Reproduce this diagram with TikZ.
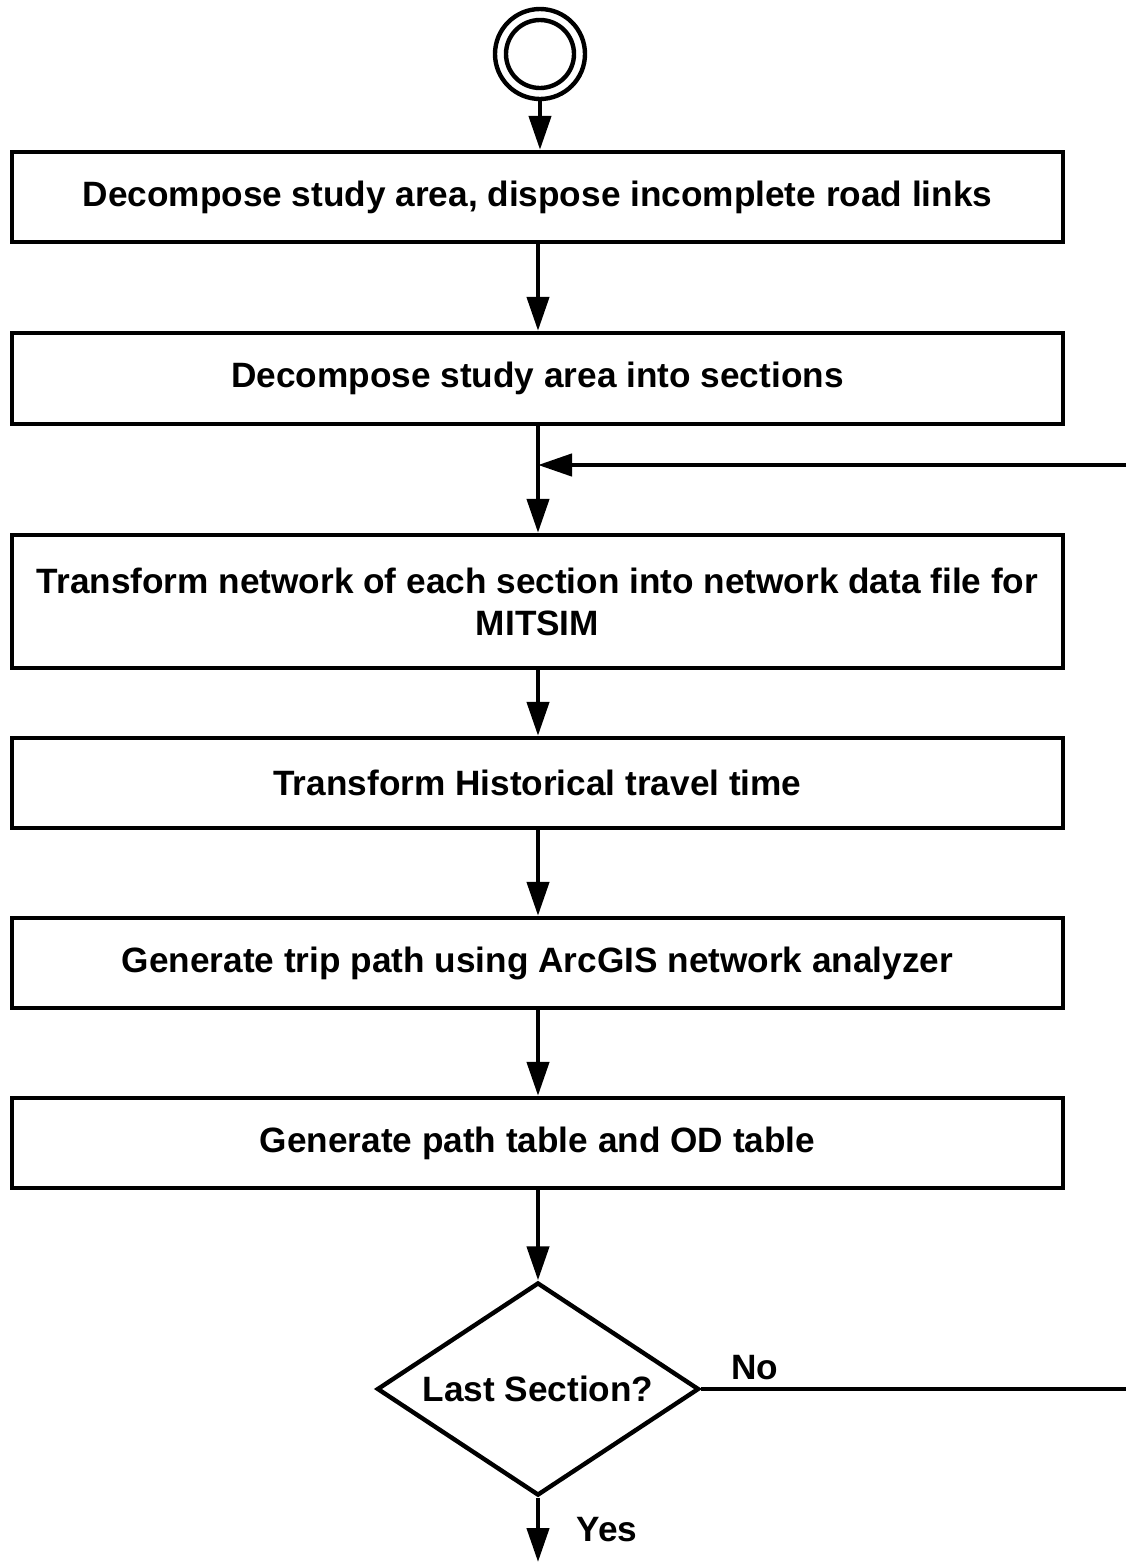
\documentclass[tikz,border=0pt]{standalone}
\usepackage{fontspec}
\setmainfont{Liberation Sans}
\usetikzlibrary{arrows.meta,shapes.geometric}
\begin{document}
\begin{tikzpicture}[x=0.5pt,y=-0.5pt,
  line width=2.2pt,
  txt/.style={font=\fontsize{17.6}{21}\selectfont\bfseries},
  stepbox/.style={draw,rectangle,minimum width=525.5pt,inner sep=0pt,align=center,txt},
  arr/.style={-{Triangle[length=17pt,width=11pt]}},
  lbl/.style={txt,inner sep=0pt}]
\useasboundingbox (0,0) rectangle (1126,1564);
\node[draw,circle,minimum size=45pt,inner sep=0pt] (start) at (540,54) {};
\node[draw,circle,minimum size=34pt,inner sep=0pt] (startin) at (540,54) {};
\node[stepbox,minimum height=45pt] (b1) at (537.5,197) {Decompose study area, dispose incomplete road links};
\node[stepbox,minimum height=45.5pt] (b2) at (537.5,378.5) {Decompose study area into sections};
\node[stepbox,minimum height=66.5pt] (b3) at (537.5,601.5) {Transform network of each section into network data file for\\MITSIM};
\node[stepbox,minimum height=45pt] (b4) at (537.5,783) {Transform Historical travel time};
\node[stepbox,minimum height=45pt] (b5) at (537.5,963) {Generate trip path using ArcGIS network analyzer};
\node[stepbox,minimum height=45pt] (b6) at (537.5,1143) {Generate path table and OD table};
\node[draw,diamond,aspect=1.5,minimum width=161pt,minimum height=106.5pt,inner sep=0pt,txt] (dec) at (538,1389) {Last Section?};
\coordinate (join) at (538,465);
\coordinate (rin) at (1126,465);
\coordinate (rout) at (1126,1389);
\coordinate (endpt) at (538,1562);
\draw[arr] (start.south) -- (start.south |- b1.north);
\draw[arr] (b1.south -| 538,0) -- (b2.north -| 538,0);
\draw (b2.south -| 538,0) -- (join);
\draw[arr] (join) -- (b3.north -| 538,0);
\draw[arr] (rin) -- (join);
\draw[arr] (b3.south -| 538,0) -- (b4.north -| 538,0);
\draw[arr] (b4.south -| 538,0) -- (b5.north -| 538,0);
\draw[arr] (b5.south -| 538,0) -- (b6.north -| 538,0);
\draw[arr] (b6.south -| 538,0) -- (dec.north);
\draw (dec.east) -- (rout);
\draw[arr] (dec.south) -- (endpt);
\node[lbl] (no) at (755,1368) {No};
\node[lbl] (yes) at (607,1530) {Yes};
\end{tikzpicture}
\end{document}
